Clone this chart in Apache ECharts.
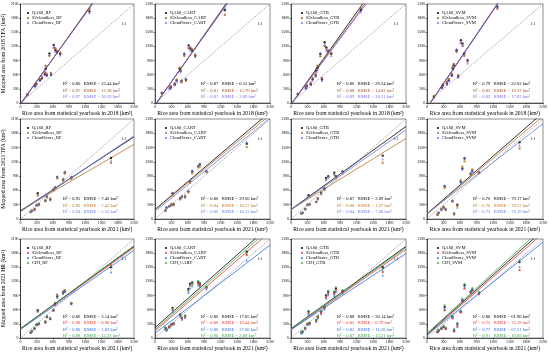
<!DOCTYPE html>
<html><head><meta charset="utf-8">
<script src="https://cdn.jsdelivr.net/npm/echarts@6/dist/echarts.min.js"></script>
<style>html,body{margin:0;padding:0;background:#fff}#c{width:550px;height:354px}</style>
</head><body><div id="c"></div><script>
// ---------- data ----------
const tickValues = [0, 300, 600, 900, 1200, 1500, 1800, 2100];
const x2018 = [125, 270, 290, 360, 395, 450, 465, 485, 535, 565, 615, 645, 675, 735, 1275];
const x2021 = [190, 210, 260, 300, 320, 340, 460, 490, 550, 610, 640, 680, 790, 820, 940, 1675];

// Row 1 (2018)
const r1_RF_QA60 = [180, 360, 400, 480, 520, 610, 730, 590, 1050, 600, 1230, 1120, 1080, 1040, 1940];
const r1_RF_S2   = [165, 385, 420, 510, 560, 650, 790, 620, 1000, 640, 1170, 1160, 1110, 1070, 1990];
const r1_RF_CS   = [195, 340, 380, 470, 540, 600, 700, 570, 1020, 610, 1200, 1090, 1060, 1010, 1910];
const r1_CART_QA60 = [215, 310, 340, 395, 470, 720, 680, 470, 1040, 500, 1220, 1150, 1110, 1000, 1970];
const r1_CART_S2   = [200, 330, 360, 420, 500, 750, 700, 440, 1000, 470, 1160, 1180, 1140, 1030, 1870];
const r1_CART_CS   = [230, 300, 320, 380, 460, 690, 650, 490, 1060, 520, 1190, 1120, 1090, 980, 2020];
const r1_GTB_QA60 = [190, 320, 360, 400, 500, 580, 690, 750, 1040, 500, 1290, 1180, 1110, 1040, 1970];
const r1_GTB_S2   = [175, 340, 380, 430, 530, 610, 720, 790, 990, 530, 1210, 1150, 1080, 1060, 2010];
const r1_GTB_CS   = [205, 300, 340, 380, 480, 560, 660, 720, 1070, 470, 1250, 1110, 1130, 1000, 1930];
const r1_SVM_QA60 = [130, 330, 380, 410, 480, 590, 730, 800, 1120, 560, 1330, 1260, 1050, 910, 2040];
const r1_SVM_S2   = [150, 350, 400, 450, 510, 620, 760, 830, 1080, 590, 1270, 1210, 1000, 880, 2000];
const r1_SVM_CS   = [115, 310, 360, 390, 460, 570, 700, 770, 1150, 540, 1300, 1230, 1080, 840, 2070];

// Row 2 (2021)
const r2_RF_QA60 = [150, 170, 200, 290, 540, 310, 390, 470, 410, 620, 660, 880, 830, 980, 870, 1280];
const r2_RF_S2   = [140, 180, 210, 300, 500, 290, 370, 450, 430, 600, 640, 850, 800, 950, 840, 1180];
const r2_RF_CS   = [160, 165, 190, 280, 520, 320, 400, 480, 400, 630, 680, 900, 850, 1000, 880, 1230];
const r2_CART_QA60 = [180, 240, 270, 300, 540, 310, 430, 470, 470, 580, 790, 1000, 1110, 1150, 1000, 1580];
const r2_CART_S2   = [170, 230, 260, 320, 500, 290, 410, 450, 490, 560, 760, 960, 1080, 1100, 980, 1510];
const r2_CART_CS   = [195, 250, 280, 290, 560, 330, 440, 480, 450, 600, 810, 1030, 1130, 1170, 1020, 1620];
const r2_GTB_QA60 = [120, 130, 210, 300, 500, 310, 360, 430, 550, 640, 860, 900, 970, 900, 1000, 1330];
const r2_GTB_S2   = [110, 120, 200, 290, 470, 300, 350, 410, 520, 610, 820, 870, 930, 860, 960, 1180];
const r2_GTB_CS   = [130, 140, 220, 310, 480, 320, 370, 440, 560, 630, 840, 880, 950, 890, 990, 1260];
const r2_SVM_QA60 = [95, 130, 200, 240, 690, 200, 380, 110, 300, 780, 1060, 1270, 950, 1010, 980, 1610];
const r2_SVM_S2   = [85, 120, 210, 260, 650, 190, 360, 95, 270, 820, 1100, 1210, 930, 1040, 960, 1480];
const r2_SVM_CS   = [110, 140, 190, 230, 710, 220, 400, 130, 240, 760, 1040, 1300, 970, 990, 1000, 1550];

// Row 3 (2021, with CDI)
const r3_RF_QA60 = [115, 145, 200, 280, 590, 300, 340, 450, 410, 590, 730, 880, 960, 990, 730, 1500];
const r3_RF_S2   = [110, 140, 190, 270, 560, 290, 330, 440, 400, 580, 700, 920, 980, 1010, 740, 1540];
const r3_RF_CS   = [120, 150, 210, 290, 570, 310, 350, 460, 420, 600, 710, 860, 940, 980, 720, 1400];
const r3_RF_CDI  = [125, 160, 220, 300, 600, 320, 360, 470, 430, 610, 750, 900, 990, 1020, 750, 1520];
const r3_CART_QA60 = [215, 180, 240, 290, 640, 310, 500, 430, 470, 1040, 1150, 1180, 1190, 1150, 1080, 1830];
const r3_CART_S2   = [200, 170, 230, 280, 600, 300, 480, 410, 450, 1000, 1110, 1140, 1150, 1120, 1060, 1760];
const r3_CART_CS   = [190, 160, 220, 270, 560, 290, 460, 390, 430, 960, 1060, 1100, 1120, 1090, 1040, 1650];
const r3_CART_CDI  = [225, 190, 250, 300, 620, 320, 510, 440, 480, 1020, 1130, 1160, 1210, 1170, 1090, 1800];
const r3_GTB_QA60 = [120, 140, 210, 300, 560, 320, 380, 450, 560, 660, 900, 980, 970, 1050, 1000, 1500];
const r3_GTB_S2   = [110, 130, 200, 290, 520, 300, 360, 430, 530, 630, 860, 940, 930, 1010, 970, 1400];
const r3_GTB_CS   = [100, 120, 190, 280, 500, 290, 350, 420, 510, 610, 840, 910, 900, 980, 950, 1330];
const r3_GTB_CDI  = [130, 150, 220, 310, 580, 330, 390, 460, 570, 670, 920, 1000, 990, 1080, 1020, 1450];
const r3_SVM_QA60 = [130, 165, 200, 240, 660, 200, 450, 160, 300, 560, 800, 1120, 980, 1030, 950, 1610];
const r3_SVM_S2   = [120, 150, 190, 230, 590, 190, 420, 140, 240, 540, 780, 1050, 960, 1000, 930, 1440];
const r3_SVM_CS   = [140, 170, 210, 250, 620, 210, 440, 180, 280, 570, 820, 1080, 990, 1040, 960, 1510];
const r3_SVM_CDI  = [150, 180, 220, 260, 700, 220, 470, 190, 320, 590, 840, 1150, 1000, 1060, 980, 1650];

// Regression lines [slope, intercept]
const fit_r1_RF = [[1.60, -20], [1.62, -30], [1.58, -10]];
const fit_r1_CART = [[1.66, -50], [1.64, -40], [1.62, -35]];
const fit_r1_GTB = [[1.63, -30], [1.58, -30], [1.55, -28]];
const fit_r1_SVM = [[1.73, -104], [1.72, -100], [1.74, -105]];
const fit_r2_RF = [[0.74, 170], [0.66, 180], [0.76, 150]];
const fit_r2_CART = [[0.975, 200], [0.95, 190], [0.93, 160]];
const fit_r2_GTB = [[0.83, 200], [0.71, 200], [0.80, 190]];
const fit_r2_SVM = [[1.01, 110], [0.98, 100], [0.90, 110]];
const fit_r3_RF = [[0.83, 200], [0.82, 195], [0.80, 180], [0.84, 195]];
const fit_r3_CART = [[1.03, 220], [1.00, 150], [0.89, 100], [1.02, 180]];
const fit_r3_GTB = [[0.83, 200], [0.81, 180], [0.77, 175], [0.82, 195]];
const fit_r3_SVM = [[1.05, 80], [1.03, 60], [0.94, 60], [1.07, 100]];

// Statistics text
const stat_r1_RF = [['0.86', '22.44'], ['0.97', '12.38'], ['0.97', '30.59']];
const stat_r1_CART = [['0.87', '0.52'], ['0.81', '15.76'], ['0.87', '2.09']];
const stat_r1_GTB = [['0.86', '29.24'], ['0.88', '14.02'], ['0.89', '20.31']];
const stat_r1_SVM = [['0.79', '22.63'], ['0.85', '16.37'], ['0.82', '17.03']];
const stat_r2_RF = [['0.95', '7.46'], ['0.93', '7.42'], ['0.94', '5.32']];
const stat_r2_CART = [['0.86', '29.66'], ['0.84', '10.57'], ['0.86', '10.13']];
const stat_r2_GTB = [['0.87', '2.89'], ['0.80', '1.67'], ['0.84', '7.80']];
const stat_r2_SVM = [['0.76', '79.17'], ['0.76', '79.57'], ['0.73', '79.19']];
const stat_r3_RF = [['0.86', '3.14'], ['0.90', '0.90'], ['0.90', '1.02'], ['0.88', '12.21']];
const stat_r3_CART = [['0.86', '17.05'], ['0.86', '16.44'], ['0.86', '27.60'], ['0.90', '2.08']];
const stat_r3_GTB = [['0.88', '20.14'], ['0.85', '0.79'], ['0.85', '11.56'], ['0.87', '13.21']];
const stat_r3_SVM = [['0.80', '61.90'], ['0.75', '73.19'], ['0.77', '67.31'], ['0.91', '10.89']];

const sources = ['QA60', 'S2cloudless', 'CloudScore', 'CDI'];
const methods = ['RF', 'CART', 'GTB', 'SVM'];
const xTitles = ['Rice area from statistical yearbook in 2018 (km²)', 'Rice area from statistical yearbook in 2021 (km²)', 'Rice area from statistical yearbook in 2021 (km²)'];
const yTitles = ['Mapped area from 2018 TFA (km²)', 'Mapped area from 2021 TFA (km²)', 'Mapped area from 2021 HR (km²)'];

// ---------- layout / style ----------
const colorsRow = [
  ['#000000', '#A0522D', '#7B68EE'],
  ['#000000', '#B8732E', '#6B7BE0'],
  ['#000000', '#E0382E', '#2F6FE8', '#3CA850']
];
const colLeft = [17, 155, 291, 427];
const colW = [117, 115, 115, 116];
const rowTop = [4, 119, 239];
const rowH = [99, 100, 99];
const FONT = 'Liberation Serif';

const rowsData = [
  { x: x2018, ys: [[r1_RF_QA60, r1_RF_S2, r1_RF_CS], [r1_CART_QA60, r1_CART_S2, r1_CART_CS], [r1_GTB_QA60, r1_GTB_S2, r1_GTB_CS], [r1_SVM_QA60, r1_SVM_S2, r1_SVM_CS]],
    fits: [fit_r1_RF, fit_r1_CART, fit_r1_GTB, fit_r1_SVM], stats: [stat_r1_RF, stat_r1_CART, stat_r1_GTB, stat_r1_SVM] },
  { x: x2021, ys: [[r2_RF_QA60, r2_RF_S2, r2_RF_CS], [r2_CART_QA60, r2_CART_S2, r2_CART_CS], [r2_GTB_QA60, r2_GTB_S2, r2_GTB_CS], [r2_SVM_QA60, r2_SVM_S2, r2_SVM_CS]],
    fits: [fit_r2_RF, fit_r2_CART, fit_r2_GTB, fit_r2_SVM], stats: [stat_r2_RF, stat_r2_CART, stat_r2_GTB, stat_r2_SVM] },
  { x: x2021, ys: [[r3_RF_QA60, r3_RF_S2, r3_RF_CS, r3_RF_CDI], [r3_CART_QA60, r3_CART_S2, r3_CART_CS, r3_CART_CDI], [r3_GTB_QA60, r3_GTB_S2, r3_GTB_CS, r3_GTB_CDI], [r3_SVM_QA60, r3_SVM_S2, r3_SVM_CS, r3_SVM_CDI]],
    fits: [fit_r3_RF, fit_r3_CART, fit_r3_GTB, fit_r3_SVM], stats: [stat_r3_RF, stat_r3_CART, stat_r3_GTB, stat_r3_SVM] }
];

const grids = [], xAxes = [], yAxes = [], series = [], graphics = [];
const symbols = ['circle', 'circle', 'triangle', 'diamond'];
let gi = 0;
for (let r = 0; r < 3; r++) {
  for (let c = 0; c < 4; c++) {
    const L = colLeft[c], T = rowTop[r], W = colW[c], H = rowH[r];
    grids.push({ left: L, top: T, width: W, height: H, show: true, borderColor: '#444', borderWidth: 0.6, backgroundColor: 'transparent' });
    const axisCommon = {
      min: 0, max: 2100, interval: 300, gridIndex: gi, type: 'value',
      splitLine: { show: false },
      axisLine: { show: true, lineStyle: { color: '#000', width: 0.6 } },
      axisTick: { show: true, length: 1.5, lineStyle: { color: '#000', width: 0.5 } },
      axisLabel: { fontSize: 3.8, color: '#000', margin: 2, fontFamily: FONT, formatter: v => String(v) },
      nameTextStyle: { fontSize: 5.6, color: '#000', fontFamily: FONT }
    };
    xAxes.push(Object.assign({}, axisCommon, { name: xTitles[r], nameLocation: 'middle', nameGap: 8 }));
    yAxes.push(Object.assign({}, axisCommon, { name: c === 0 ? yTitles[r] : '', nameLocation: 'middle', nameGap: 10 }));
    const rd = rowsData[r];
    const nS = rd.ys[c].length;
    // 1:1 line
    series.push({ type: 'line', xAxisIndex: gi, yAxisIndex: gi, data: [[0, 0], [2100, 2100]], symbol: 'none', silent: true,
      lineStyle: { color: '#777', width: 0.7, type: [1.2, 1.2] }, z: 1 });
    for (let s = 0; s < nS; s++) {
      const col = colorsRow[r][s];
      const [m, b] = rd.fits[c][s];
      series.push({ type: 'line', xAxisIndex: gi, yAxisIndex: gi, data: [[0, b], [2100, b + 2100 * m]], symbol: 'none', silent: true, clip: true,
        lineStyle: { color: col, width: 0.8 }, z: 2 });
      series.push({ type: 'scatter', name: sources[s] + '_' + methods[c], xAxisIndex: gi, yAxisIndex: gi,
        data: rd.x.map((xv, i) => [xv, rd.ys[c][s][i]]), symbol: symbols[s], symbolSize: 2.4,
        itemStyle: { color: col }, z: 3 });
      // legend (as graphic)
      const ly = T + 9 + s * 5;
      graphics.push({ type: 'circle', shape: { cx: L + 11, cy: ly, r: 1 }, style: { fill: col } });
      graphics.push({ type: 'text', x: L + 15, y: ly, style: { text: sources[s] + '_' + methods[c], fontSize: 4.6, fontFamily: FONT, fill: '#000', verticalAlign: 'middle' } });
      // stats
      const sy = (nS === 3 ? T + 80 : T + 78) + s * (nS === 3 ? 6.5 : 6.2);
      const st = rd.stats[c][s];
      graphics.push({ type: 'text', x: L + 46, y: sy, style: { text: 'R² = ' + st[0] + '   RMSE = ' + st[1] + ' km²', fontSize: 4.6, fontFamily: FONT, fill: col, verticalAlign: 'middle' } });
    }
    graphics.push({ type: 'text', x: L + W - 13, y: T + 20, style: { text: '1:1', fontSize: 4.6, fontFamily: FONT, fill: '#333', verticalAlign: 'middle' } });
    gi++;
  }
}

const chart = echarts.init(document.getElementById('c'), null, { renderer: 'canvas' });
chart.setOption({
  animation: false,
  backgroundColor: '#fff',
  textStyle: { fontFamily: FONT },
  grid: grids, xAxis: xAxes, yAxis: yAxes, series: series, graphic: graphics
});
</script></body></html>
